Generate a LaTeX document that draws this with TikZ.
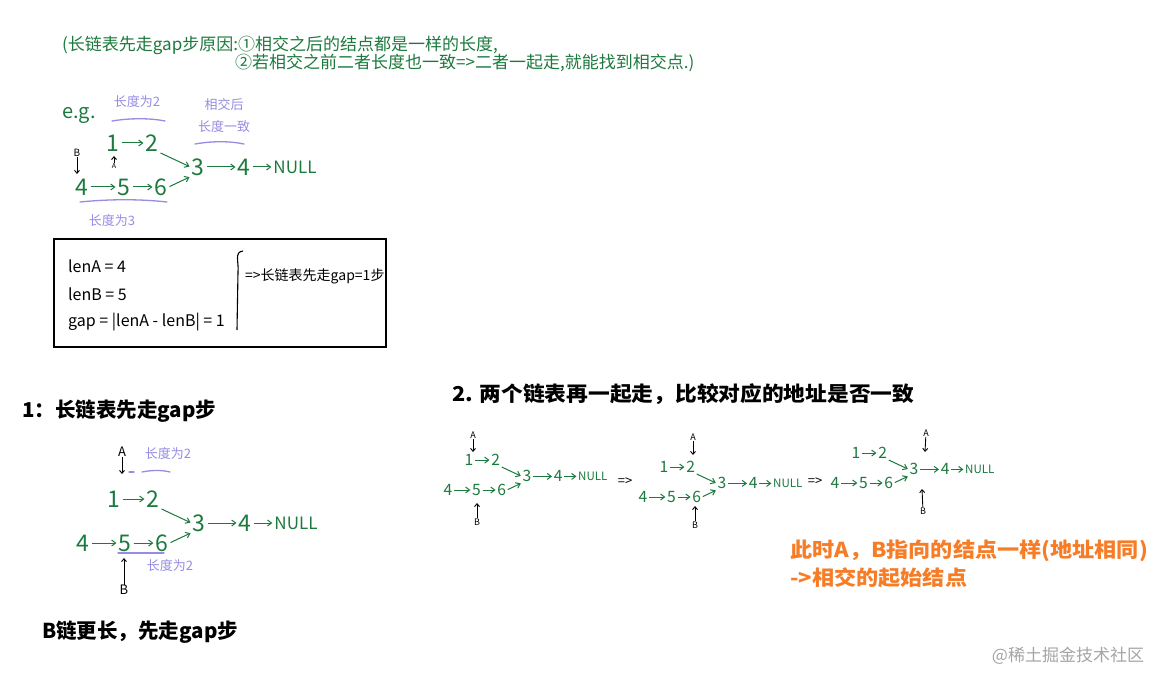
\documentclass[tikz,border=0pt]{standalone}
\usepackage{fontspec}
\setmainfont{Noto Sans CJK SC}
\usetikzlibrary{arrows.meta}
\definecolor{hgreen}{RGB}{28,122,62}
\definecolor{hpurple}{RGB}{150,140,228}
\definecolor{horange}{RGB}{246,124,38}
\definecolor{wgray}{RGB}{165,165,165}
\newcommand\fs[1]{\fontsize{#1}{#1}\selectfont}
\tikzset{
 dg/.style={text=hgreen, font=\fs{23}, inner sep=1pt},
 ca/.style={draw=hgreen, line width=1pt, -{Straight Barb[length=4pt,width=6pt]}, shorten >=1pt, shorten <=1pt},
 pu/.style={text=hpurple, font=\fs{13}, inner sep=0pt},
 pul/.style={draw=hpurple, line width=1.3pt, line cap=round},
 ptr/.style={font=\fs{11}, inner sep=0.5pt},
 pa/.style={draw=black, line width=0.9pt, -{Straight Barb[length=3pt,width=5pt]}},
 head/.style={font=\bfseries\fs{20.5}, anchor=west, inner sep=0pt},
 hand/.style={text=hgreen, font=\fs{17}, anchor=west, inner sep=0pt},
 bx/.style={font=\fs{16}, anchor=west, inner sep=0pt},
}
\newcommand\llchain[4]{%
\begin{scope}[shift={(#2,#3)},scale=#4,transform shape]
\node[dg] (#1-a4) at (0,0) {4};
\node[dg] (#1-a5) at (42,0) {5};
\node[dg] (#1-a6) at (79,0) {6};
\node[dg] (#1-b1) at (31,-44) {1};
\node[dg] (#1-b2) at (70,-44) {2};
\node[dg] (#1-c3) at (116,-20) {3};
\node[dg] (#1-c4) at (162,-20) {4};
\node[dg,font=\fs{17}] (#1-nul) at (213,-20) {NULL};
\draw[ca] (#1-a4) -- (#1-a5);
\draw[ca] (#1-a5) -- (#1-a6);
\draw[ca] (#1-b1) -- (#1-b2);
\draw[ca] (#1-b2.south east) -- (#1-c3.west);
\draw[ca] (#1-a6.east) -- (#1-c3.south west);
\draw[ca] (#1-c3) -- (#1-c4);
\draw[ca] (#1-c4) -- (#1-nul);
\end{scope}}
\begin{document}
\begin{tikzpicture}[x=1pt,y=-1pt]
\fill[white] (0,0) rectangle (1168,687);
\useasboundingbox (0,0) rectangle (1168,687);

% title
\node[hand] (t1) at (62,45) {(长链表先走gap步原因:①相交之后的结点都是一样的长度,};
\node[hand] (t2) at (235,63) {②若相交之前二者长度也一致=>二者一起走,就能找到相交点.)};

% e.g. example
\node[text=hgreen,font=\fs{20},inner sep=0pt] (eg) at (79,115) {e.g.};
\llchain{e}{82}{187}{1}
\node[pu] (el1) at (137,102) {长度为2};
\draw[pul] (112,121) .. controls (130,118) and (150,118) .. (165,121);
\node[pu] (el2) at (224,105) {相交后};
\node[pu] (el3) at (224,127) {长度一致};
\draw[pul] (195,144) .. controls (212,141) and (230,141) .. (244,144);
\draw[pul] (80,202) .. controls (110,199) and (140,199) .. (167,202);
\node[pu] (el4) at (112,221) {长度为3};
\node[ptr,font=\fs{10}] (eB) at (77,153) {B};
\coordinate (eBt) at (77,174);
\draw[pa] (eB) -- (eBt);
\node[ptr,font=\fs{7}] (eA) at (114,166) {A};
\coordinate (eAt) at (114,156);
\draw[pa] (eA.north) -- (eAt);

% box
\node[draw,line width=2.5pt,minimum width=332,minimum height=108,inner sep=0pt] (box) at (220,293) {};
\node[bx] (lA) at (68,266) {lenA = 4};
\node[bx] (lB) at (68,294) {lenB = 5};
\node[bx] (gp) at (68,322) {gap = |lenA - lenB| = 1};
\draw[line width=1.1pt] (243,251) .. controls (234,252) and (239,262) .. (238,272) -- (237,330);
\node[bx,font=\fs{14}] (res) at (245,276) {=>长链表先走gap=1步};

% headings
\node[head] (h1) at (22,411) {1：长链表先走gap步};
\node[head,xscale=1.06] (h2) at (452,394) {2. 两个链表再一起走，比较对应的地址是否一致};
\node[head] (h3) at (42,632) {B链更长，先走gap步};

% section 1 diagram
\llchain{s}{83}{543}{1}
\node[ptr,font=\fs{13}] (sA) at (122,452) {A};
\coordinate (sAt) at (122,474);
\draw[pa] (sA) -- (sAt);
\node[pu] (sl1) at (168,454) {长度为2};
\draw[pul] (129,472) -- (134,472);
\draw[pul] (142,472) .. controls (152,470) and (162,470) .. (170,472);
\draw[pul] (118,553) -- (164,553);
\node[pu] (sl2) at (170,566) {长度为2};
\node[ptr,font=\fs{13}] (sB) at (124,590) {B};
\coordinate (sBt) at (124,558);
\draw[pa] (sB) -- (sBt);

% section 2 diagrams
\llchain{a}{448}{490}{0.68}
\node[ptr,font=\fs{9}] (aA) at (473,435) {A};
\coordinate (aAt) at (473,452);
\draw[pa] (aA) -- (aAt);
\node[ptr,font=\fs{9}] (aB) at (477,522) {B};
\coordinate (aBt) at (477,503);
\draw[pa] (aB) -- (aBt);
\node[font=\fs{13},inner sep=0pt] (i1) at (625,482) {=>};

\llchain{b}{643}{497}{0.68}
\node[ptr,font=\fs{9}] (bA) at (693,437) {A};
\coordinate (bAt) at (693,455);
\draw[pa] (bA) -- (bAt);
\node[ptr,font=\fs{9}] (bB) at (695,525) {B};
\coordinate (bBt) at (695,506);
\draw[pa] (bB) -- (bBt);
\node[font=\fs{13},inner sep=0pt] (i2) at (815,482) {=>};

\llchain{c}{835}{483}{0.68}
\node[ptr,font=\fs{9}] (cA) at (926,433) {A};
\coordinate (cAt) at (925,452);
\draw[pa] (cA) -- (cAt);
\node[ptr,font=\fs{9}] (cB) at (923,511) {B};
\coordinate (cBt) at (922,489);
\draw[pa] (cB) -- (cBt);

% conclusion
\node[head,xscale=1.08] (o1) at (790,551) {\color{horange}此时A，B指向的结点一样(地址相同)};
\node[head,xscale=1.08] (o2) at (790,578) {\color{horange}->相交的起始结点};

% watermark
\node[text=wgray,font=\fs{17},inner sep=0pt] (wm) at (1068,656) {@稀土掘金技术社区};
\end{tikzpicture}
\end{document}
